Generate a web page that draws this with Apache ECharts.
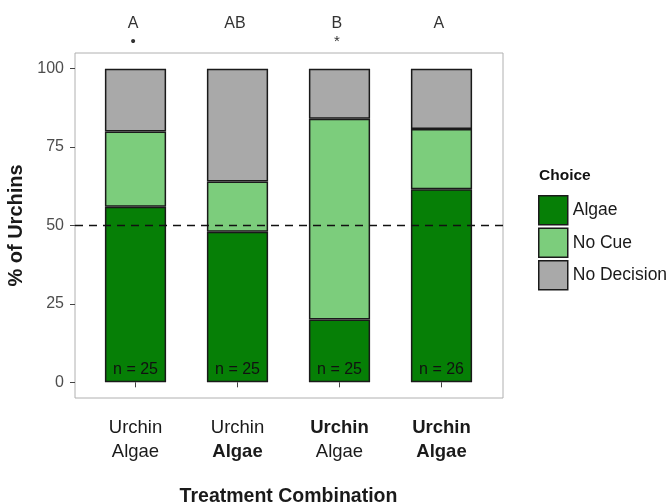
<!DOCTYPE html>
<html>
<head>
<meta charset="utf-8">
<script src="https://cdn.jsdelivr.net/npm/echarts@6/dist/echarts.min.js"></script>
<style>
  html, body { margin: 0; padding: 0; background: #ffffff; }
  #chart { width: 670px; height: 504px; }
</style>
</head>
<body>
<div id="chart"></div>
<script>
// Treatment combinations (first line / second line, bold flags)
const treatments = ['T1', 'T2', 'T3', 'T4'];
const treatmentTop = ['Urchin', 'Urchin', 'Urchin', 'Urchin'];
const treatmentBottom = ['Algae', 'Algae', 'Algae', 'Algae'];
const topBold = [false, false, true, true];
const bottomBold = [false, true, false, true];

// Choice percentages per treatment
const algaePct = [56, 48, 20, 61.54];
const noCuePct = [24, 16, 64, 19.23];
const noDecisionPct = [20, 36, 16, 19.23];

// Sample sizes and significance letters
const sampleN = [25, 25, 25, 26];
const groupLetters = ['A', 'AB', 'B', 'A'];
const groupMarks = ['•', '', '*', ''];

const yTicks = [0, 25, 50, 75, 100];
const letterPositions = [0.97, 1.97, 2.97, 3.97];

const font = 'Liberation Sans, Arial, Helvetica, sans-serif';
const colAlgae = '#067f06';
const colNoCue = '#7ccd7c';
const colNoDecision = '#a9a9a9';
const outline = '#1a1a1a';

const chart = echarts.init(document.getElementById('chart'), null, { renderer: 'canvas' });

const barBase = {
  type: 'bar',
  stack: 'choice',
  xAxisIndex: 1,
  yAxisIndex: 1,
  barWidth: '60%',
  emphasis: { disabled: true }
};

chart.setOption({
  animation: false,
  backgroundColor: '#ffffff',
  textStyle: { fontFamily: font },
  title: {
    text: 'Choice',
    left: 534,
    top: 163,
    textStyle: { fontFamily: font, fontSize: 15.5, fontWeight: 'bold', color: '#111' }
  },
  legend: {
    orient: 'vertical',
    left: 533,
    top: 190,
    itemWidth: 29,
    itemHeight: 29,
    itemGap: 2,
    icon: 'rect',
    selectedMode: false,
    itemStyle: { borderColor: outline, borderWidth: 1.5 },
    textStyle: { fontFamily: font, fontSize: 17.5, color: '#1a1a1a' },
    data: ['Algae', 'No Cue', 'No Decision']
  },
  grid: [
    // plotting panel (border, y axis, reference line, letters)
    {
      left: 75, top: 53, width: 428, height: 345,
      outerBoundsMode: 'none', containLabel: false,
      show: true, borderColor: '#b0b0b0', borderWidth: 1, backgroundColor: '#ffffff'
    },
    // bar area: four category bands inside the panel
    {
      left: 84.5, top: 53, width: 408, height: 345,
      outerBoundsMode: 'none', containLabel: false
    }
  ],
  xAxis: [
    {
      gridIndex: 0,
      type: 'value',
      position: 'top',
      min: 0.4,
      max: 4.6,
      splitLine: { show: false },
      axisLine: { show: false },
      axisTick: { show: false },
      axisLabel: {
        customValues: letterPositions,
        margin: 2,
        formatter: function (value) {
          const i = Math.round(value) - 1;
          return '{l|' + groupLetters[i] + '}\n{s|' + (groupMarks[i] || ' ') + '}';
        },
        rich: {
          l: { fontFamily: font, fontSize: 16, color: '#333', lineHeight: 18 },
          s: { fontFamily: font, fontSize: 15, color: '#333', lineHeight: 18 }
        }
      }
    },
    {
      gridIndex: 1,
      type: 'category',
      position: 'bottom',
      data: treatments,
      name: 'Treatment Combination',
      nameLocation: 'middle',
      nameGap: 89,
      nameTextStyle: { fontFamily: font, fontSize: 19.5, fontWeight: 'bold', color: '#1a1a1a' },
      splitLine: { show: false },
      axisLine: { show: false },
      axisTick: { show: true, alignWithLabel: true, length: 5, lineStyle: { color: '#444', width: 1 } },
      axisLabel: {
        margin: 18,
        interval: 0,
        formatter: function (value, i) {
          const a = (topBold[i] ? '{b|' : '{n|') + treatmentTop[i] + '}';
          const b = (bottomBold[i] ? '{b|' : '{n|') + treatmentBottom[i] + '}';
          return a + '\n' + b;
        },
        rich: {
          n: { fontFamily: font, fontSize: 18.5, color: '#1a1a1a', lineHeight: 24 },
          b: { fontFamily: font, fontSize: 18.5, fontWeight: 'bold', color: '#1a1a1a', lineHeight: 24 }
        }
      }
    }
  ],
  yAxis: [
    {
      gridIndex: 0,
      type: 'value',
      min: -5,
      max: 105,
      name: '% of Urchins',
      nameLocation: 'middle',
      nameRotate: 90,
      nameGap: 43,
      nameTextStyle: { fontFamily: font, fontSize: 20, fontWeight: 'bold', color: '#1a1a1a' },
      splitLine: { show: false },
      axisLine: { show: false },
      axisTick: { show: true, length: 5, customValues: yTicks, lineStyle: { color: '#444', width: 1 } },
      axisLabel: {
        customValues: yTicks,
        margin: 11,
        fontFamily: font,
        fontSize: 16,
        color: '#4d4d4d'
      }
    },
    {
      gridIndex: 1,
      type: 'value',
      min: -5,
      max: 105,
      show: false
    }
  ],
  series: [
    Object.assign({}, barBase, {
      name: 'Algae',
      color: colAlgae,
      itemStyle: { color: colAlgae, borderColor: outline, borderWidth: 1.5 },
      data: algaePct,
      label: {
        show: true,
        position: 'insideBottom',
        distance: 5,
        fontFamily: font,
        fontSize: 16,
        color: '#111',
        formatter: p => 'n = ' + sampleN[p.dataIndex]
      }
    }),
    Object.assign({}, barBase, {
      name: 'No Cue',
      color: colNoCue,
      itemStyle: { color: colNoCue, borderColor: outline, borderWidth: 1.5 },
      data: noCuePct
    }),
    Object.assign({}, barBase, {
      name: 'No Decision',
      color: colNoDecision,
      itemStyle: { color: colNoDecision, borderColor: outline, borderWidth: 1.5 },
      data: noDecisionPct
    }),
    // 50 % reference line across the whole panel
    {
      type: 'line',
      name: 'reference',
      xAxisIndex: 0,
      yAxisIndex: 0,
      data: [],
      silent: true,
      markLine: {
        silent: true,
        symbol: 'none',
        label: { show: false },
        lineStyle: { color: '#111', type: [8, 6], width: 1.4 },
        data: [{ yAxis: 50 }]
      }
    }
  ]
});
</script>
</body>
</html>
